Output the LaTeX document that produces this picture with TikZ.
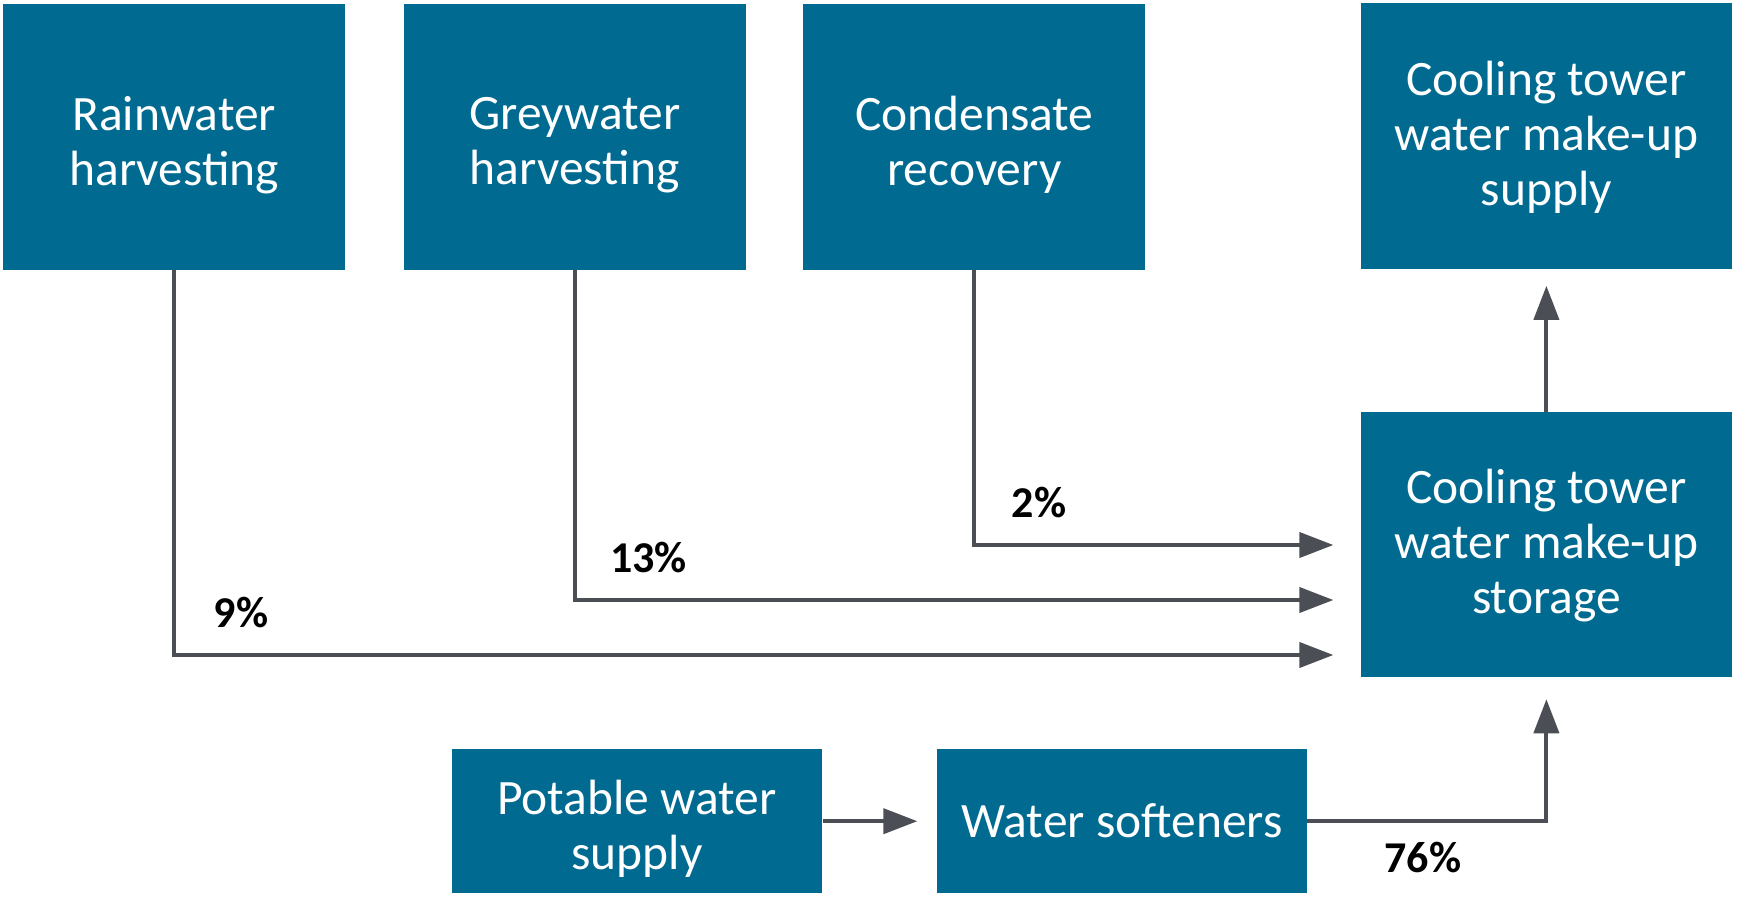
\documentclass[tikz,border=0pt]{standalone}
\usepackage{fontspec}
\setmainfont{Carlito}
\usetikzlibrary{arrows.meta}
\definecolor{boxblue}{HTML}{006A90}
\definecolor{linegray}{HTML}{4B4F55}
\tikzset{
  blk/.style={rectangle, fill=boxblue, inner sep=0pt},
  txt/.style={text=white, align=center, inner sep=0pt,
    font=\fontsize{49.5}{55}\selectfont},
  bigbox/.style={blk, minimum width=341.8pt, minimum height=265.3pt},
  widebox/.style={blk, minimum width=371.7pt, minimum height=265.3pt},
  lowbox/.style={blk, minimum width=370.7pt, minimum height=144.3pt},
  pct/.style={inner sep=0pt, font=\fontsize{44}{44}\selectfont\bfseries},
  arr/.style={draw=linegray, line width=4pt,
    -{Triangle[length=34pt,width=25pt]}},
}
\begin{document}
\begin{tikzpicture}[x=1pt,y=-1pt]
\fill[white] (0,0) rectangle (1740,902);
\useasboundingbox (0,0) rectangle (1740,902);
\node[bigbox, label={[txt,yshift=-8pt]center:{Rainwater\\harvesting}}] (rain) at (174.2,137) {};
\node[bigbox, label={[txt,yshift=-8pt]center:{Greywater\\harvesting}}] (grey) at (574.8,137) {};
\node[bigbox, label={[txt,yshift=-8pt]center:{Condensate\\recovery}}] (cond) at (974.3,137) {};
\node[widebox, label={[txt,yshift=-1pt]center:{Cooling tower\\water make-up\\supply}}] (sup) at (1546.4,136) {};
\node[widebox, label={[txt,yshift=-1pt]center:{Cooling tower\\water make-up\\storage}}] (stor) at (1546.4,544.4) {};
\node[lowbox, label={[txt,yshift=-8pt]center:{Potable water\\supply}}] (pot) at (637,821.2) {};
\node[lowbox, label={[txt]center:{Water softeners}}] (soft) at (1121.9,821.2) {};
\draw[arr, shorten >=27pt] (rain.south) |- (stor.west |- 0,655);
\draw[arr, shorten >=27pt] (grey.south) |- (stor.west |- 0,600);
\draw[arr, shorten >=27pt] (cond.south) |- (stor.west |- 0,545);
\draw[arr, shorten >=17pt] (stor.north) -- (sup.south);
\draw[arr, shorten >=19pt] (pot.east) -- (soft.west);
\draw[arr, shorten >=22pt] (soft.east) -| (stor.south);
\node[pct] (p9) at (241,612.5) {9\%};
\node[pct] (p13) at (648.5,558) {13\%};
\node[pct] (p2) at (1039,503) {2\%};
\node[pct] (p76) at (1423,858) {76\%};
\end{tikzpicture}
\end{document}
